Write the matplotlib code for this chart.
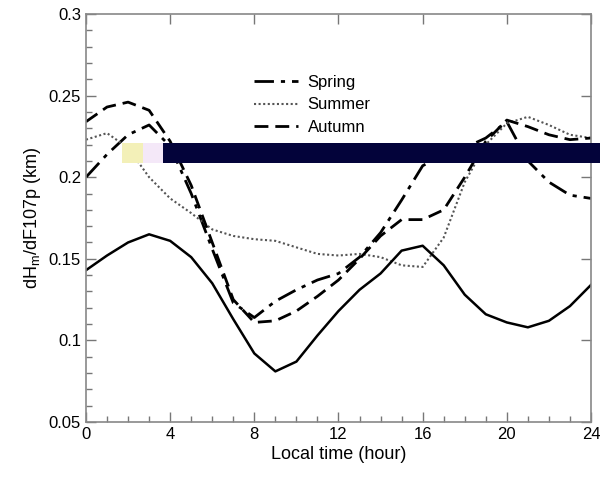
import matplotlib
matplotlib.use("Agg")
import matplotlib.pyplot as plt
from matplotlib.patches import Rectangle
from matplotlib.ticker import MultipleLocator

plt.rcParams['font.family'] = ['Liberation Sans', 'DejaVu Sans']

hours = list(range(25))
spring = [0.200, 0.214, 0.226, 0.232, 0.219, 0.190, 0.156, 0.123, 0.114, 0.124, 0.131,
          0.137, 0.141, 0.151, 0.166, 0.186, 0.207, 0.214, 0.218, 0.224, 0.234,
          0.210, 0.197, 0.189, 0.187]
summer = [0.223, 0.227, 0.218, 0.200, 0.187, 0.178, 0.168, 0.164, 0.162, 0.161, 0.157,
          0.153, 0.152, 0.153, 0.151, 0.146, 0.145, 0.163, 0.197, 0.220, 0.233,
          0.237, 0.232, 0.226, 0.224]
autumn = [0.234, 0.243, 0.246, 0.241, 0.222, 0.195, 0.160, 0.125, 0.111, 0.112, 0.118,
          0.127, 0.137, 0.150, 0.164, 0.174, 0.174, 0.180, 0.200, 0.222, 0.235,
          0.231, 0.226, 0.223, 0.224]
winter = [0.143, 0.152, 0.160, 0.165, 0.161, 0.151, 0.135, 0.113, 0.092, 0.081, 0.087,
          0.103, 0.118, 0.131, 0.141, 0.155, 0.158, 0.146, 0.128, 0.116, 0.111,
          0.108, 0.112, 0.121, 0.134]

fig = plt.figure(figsize=(6, 4.78), dpi=100)
ax = fig.add_axes([0.1433, 0.1172, 0.8417, 0.8535])

ax.plot(hours, spring, color='black', lw=2.0, dashes=(7, 2.5, 1.5, 2.5), label='Spring')
ax.plot(hours, summer, color='#555555', lw=1.5, dashes=(1, 1.2), label='Summer')
ax.plot(hours, autumn, color='black', lw=2.0, dashes=(5, 2.5), label='Autumn')
ax.plot(hours, winter, color='black', lw=1.8, label='Winter')

ax.set_xlim(0, 24)
ax.set_ylim(0.05, 0.3)
ax.xaxis.set_major_locator(MultipleLocator(4))
ax.xaxis.set_minor_locator(MultipleLocator(1))
ax.yaxis.set_major_locator(MultipleLocator(0.05))
ax.yaxis.set_minor_locator(MultipleLocator(0.01))
ax.set_yticks([0.05, 0.1, 0.15, 0.2, 0.25, 0.3])
ax.set_yticklabels(['0.05', '0.1', '0.15', '0.2', '0.25', '0.3'])

ax.tick_params(which='both', direction='in', color='#777777', labelsize=12)
ax.tick_params(which='major', length=7, width=1, top=True, right=True)
ax.tick_params(which='minor', length=4.5, width=1, bottom=True, left=True,
               top=False, right=False)
for sp in ax.spines.values():
    sp.set_color('#888888')
    sp.set_linewidth(1.2)

ax.set_xlabel('Local time (hour)', fontsize=13, labelpad=3)
ax.set_ylabel('dH$_\\mathregular{m}$/dF107p (km)', fontsize=13, labelpad=4)

ax.legend(loc='upper left', bbox_to_anchor=(0.31, 0.88), frameon=False,
          fontsize=12, handlelength=2.6, handletextpad=0.6, labelspacing=0.47,
          borderpad=0.2)

# overlay boxes covering part of the legend
W, H = 600, 478
def box(x0, y0, x1, y1, c):
    fig.add_artist(Rectangle((x0 / W, 1 - y1 / H), (x1 - x0) / W, (y1 - y0) / H,
                             transform=fig.transFigure, facecolor=c, edgecolor='none',
                             alpha=1.0, zorder=10))
box(122, 143, 143, 163, '#f3f0b8')
box(143, 143, 163, 163, '#f4e8f8')
box(163, 143, 600, 163, '#03033a')

fig.savefig('out.png', dpi=100)
